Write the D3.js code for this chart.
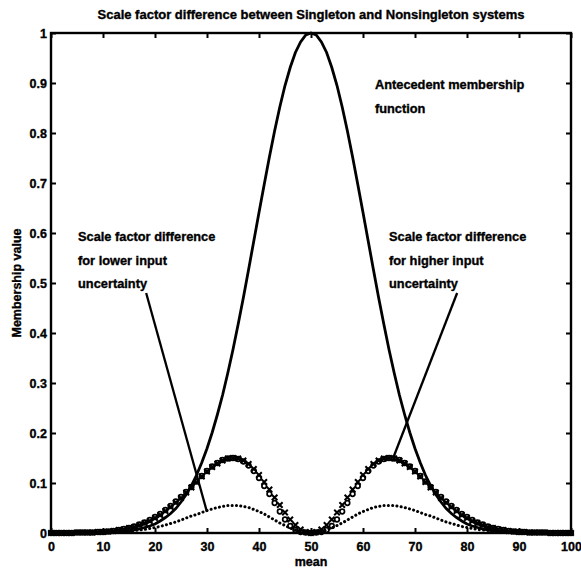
<!DOCTYPE html>
<html>
<head>
<meta charset="utf-8">
<script src="https://cdn.jsdelivr.net/npm/d3@7/dist/d3.min.js"></script>
<style>
  html, body { margin: 0; padding: 0; background: #fff; }
  svg text { font-family: "Liberation Sans", Arial, sans-serif; font-weight: bold; fill: #000; stroke: #000; stroke-width: 0.35px; }
</style>
</head>
<body>
<svg id="chart" width="581" height="574"></svg>
<script>
// ---- data ----
const title = "Scale factor difference between Singleton and Nonsingleton systems";
const xLabel = "mean";
const yLabel = "Membership value";
const xTicks = [0, 10, 20, 30, 40, 50, 60, 70, 80, 90, 100];
const yTicks = [0, 0.1, 0.2, 0.3, 0.4, 0.5, 0.6, 0.7, 0.8, 0.9, 1];

const means = [0,1,2,3,4,5,6,7,8,9,10,11,12,13,14,15,16,17,18,19,20,21,22,23,24,25,26,27,28,29,30,31,32,33,34,35,36,37,38,39,40,41,42,43,44,45,46,47,48,49,50,51,52,53,54,55,56,57,58,59,60,61,62,63,64,65,66,67,68,69,70,71,72,73,74,75,76,77,78,79,80,81,82,83,84,85,86,87,88,89,90,91,92,93,94,95,96,97,98,99,100];

// antecedent membership function (solid line)
const antecedent = [
  0,0,0,0,0,0,0,0,0,0.001,
  0.001,0.001,0.002,0.002,0.003,0.004,0.006,0.008,0.011,0.014,
  0.018,0.024,0.031,0.039,0.049,0.062,0.077,0.095,0.116,0.141,
  0.169,0.201,0.237,0.276,0.320,0.367,0.418,0.471,0.527,0.584,
  0.641,0.697,0.752,0.804,0.852,0.895,0.931,0.961,0.982,0.996,
  1.000,
  0.996,0.982,0.961,0.931,0.895,0.852,0.804,0.752,0.697,0.641,
  0.584,0.527,0.471,0.418,0.367,0.320,0.276,0.237,0.201,0.169,
  0.141,0.116,0.095,0.077,0.062,0.049,0.039,0.031,0.024,0.018,
  0.014,0.011,0.008,0.006,0.004,0.003,0.002,0.002,0.001,0.001,
  0.001,0,0,0,0,0,0,0,0,0
];

// scale factor difference, higher input uncertainty (x markers)
const higherX = [
  0,0,0,0,0,0.001,0.001,0.001,0.001,0.002,
  0.002,0.003,0.004,0.006,0.007,0.010,0.012,0.016,0.020,0.024,
  0.030,0.036,0.044,0.052,0.061,0.070,0.081,0.091,0.102,0.113,
  0.123,0.132,0.139,0.145,0.149,0.150,0.149,0.145,0.138,0.128,
  0.116,0.102,0.087,0.071,0.056,0.041,0.027,0.016,0.007,0.002,
  0,
  0.002,0.007,0.016,0.027,0.041,0.056,0.071,0.087,0.102,0.116,
  0.128,0.138,0.145,0.149,0.150,0.149,0.145,0.139,0.132,0.123,
  0.113,0.102,0.091,0.081,0.070,0.061,0.052,0.044,0.036,0.030,
  0.024,0.020,0.016,0.012,0.010,0.007,0.006,0.004,0.003,0.002,
  0.002,0.001,0.001,0.001,0.001,0,0,0,0,0
];

// scale factor difference, higher input uncertainty (o markers)
const higherO = [
  0,0,0,0,0,0.001,0.001,0.001,0.001,0.002,
  0.002,0.003,0.004,0.006,0.008,0.010,0.013,0.017,0.021,0.026,
  0.032,0.038,0.046,0.054,0.063,0.072,0.082,0.092,0.103,0.114,
  0.124,0.133,0.140,0.146,0.149,0.150,0.148,0.143,0.135,0.124,
  0.110,0.094,0.078,0.060,0.043,0.027,0.014,0.006,0.002,0.001,
  0,
  0.001,0.002,0.006,0.014,0.027,0.043,0.060,0.078,0.094,0.110,
  0.124,0.135,0.143,0.148,0.150,0.149,0.146,0.140,0.133,0.124,
  0.114,0.103,0.092,0.082,0.072,0.063,0.054,0.046,0.038,0.032,
  0.026,0.021,0.017,0.013,0.010,0.008,0.006,0.004,0.003,0.002,
  0.002,0.001,0.001,0.001,0.001,0,0,0,0,0
];

// scale factor difference, lower input uncertainty (dotted)
const lowerDot = [
  0,0,0,0,0,0,0,0,0,0,
  0.001,0.001,0.002,0.002,0.003,0.004,0.005,0.006,0.007,0.009,
  0.011,0.013,0.016,0.019,0.022,0.026,0.030,0.034,0.037,0.041,
  0.045,0.048,0.051,0.053,0.055,0.055,0.055,0.053,0.051,0.047,
  0.043,0.038,0.032,0.026,0.020,0.015,0.010,0.006,0.003,0.001,
  0,
  0.001,0.003,0.006,0.010,0.015,0.020,0.026,0.032,0.038,0.043,
  0.047,0.051,0.053,0.055,0.055,0.055,0.053,0.051,0.048,0.045,
  0.041,0.037,0.034,0.030,0.026,0.022,0.019,0.016,0.013,0.011,
  0.009,0.007,0.006,0.005,0.004,0.003,0.002,0.002,0.001,0.001,
  0,0,0,0,0,0,0,0,0,0
];

// annotations (text lines, anchor in data units)
const noteAntecedent = ["Antecedent membership", "function"];
const noteLower = ["Scale factor difference", "for lower input", "uncertainty"];
const noteHigher = ["Scale factor difference", "for higher input", "uncertainty"];
const noteAnchors = [[62.3, 0.888], [5.2, 0.584], [65.0, 0.584]];
// pointer lines [x1, y1, x2, y2] in data units
const pointers = [[18.3, 0.48, 30.0, 0.042], [78.1, 0.48, 65.8, 0.15]];

// ---- drawing ----
const svg = d3.select("#chart");
const margin = {left: 51, top: 33, right: 10, bottom: 41};
const W = 581, H = 574;
const x = d3.scaleLinear().domain([0, 100]).range([margin.left, W - margin.right]);
const y = d3.scaleLinear().domain([0, 1]).range([H - margin.bottom, margin.top]);

const fmt = d => d === 0 ? "0" : d === 1 ? "1" : d3.format(".1f")(d);

// axes with inward ticks
const gx = svg.append("g").attr("transform", `translate(0,${y(0)})`)
  .call(d3.axisBottom(x).tickValues(xTicks).tickSizeInner(-5).tickSizeOuter(0).tickPadding(9).tickFormat(d3.format("d")));
const gy = svg.append("g").attr("transform", `translate(${x(0)},0)`)
  .call(d3.axisLeft(y).tickValues(yTicks).tickSizeInner(-5).tickSizeOuter(0).tickPadding(4).tickFormat(fmt));
const gt = svg.append("g").attr("transform", `translate(0,${y(1)})`)
  .call(d3.axisTop(x).tickValues(xTicks).tickSizeInner(-5).tickSizeOuter(0).tickFormat(""));
const gr = svg.append("g").attr("transform", `translate(${x(100)},0)`)
  .call(d3.axisRight(y).tickValues(yTicks).tickSizeInner(-5).tickSizeOuter(0).tickFormat(""));
[gx, gy, gt, gr].forEach(g => {
  g.select(".domain").remove();
  g.selectAll(".tick line").attr("stroke", "#000").attr("stroke-width", 2);
  g.selectAll(".tick text").attr("font-size", 12.5).attr("font-weight", "bold")
   .attr("font-family", '"Liberation Sans", Arial, sans-serif');
});

// box
svg.append("rect")
  .attr("x", x(0)).attr("y", y(1))
  .attr("width", x(100) - x(0)).attr("height", y(0) - y(1))
  .attr("fill", "none").attr("stroke", "#000").attr("stroke-width", 2.4);

const line = d3.line().x((d, i) => x(means[i])).y(d => y(d));

// antecedent MF
svg.append("path").datum(antecedent).attr("d", line)
  .attr("fill", "none").attr("stroke", "#000").attr("stroke-width", 2.8);

// lower uncertainty, dotted
svg.append("path").datum(lowerDot).attr("d", line)
  .attr("fill", "none").attr("stroke", "#000").attr("stroke-width", 3)
  .attr("stroke-linecap", "round").attr("stroke-dasharray", "0.1,4.2");

// higher uncertainty, o markers
svg.append("g").selectAll("circle").data(higherO).join("circle")
  .attr("cx", (d, i) => x(means[i])).attr("cy", d => y(d)).attr("r", 2.3)
  .attr("fill", "none").attr("stroke", "#000").attr("stroke-width", 1.7);

// higher uncertainty, x markers
const s = 2.8;
svg.append("g").selectAll("path").data(higherX).join("path")
  .attr("d", (d, i) => {
    const cx = x(means[i]), cy = y(d);
    return `M${cx - s},${cy - s}L${cx + s},${cy + s}M${cx - s},${cy + s}L${cx + s},${cy - s}`;
  })
  .attr("stroke", "#000").attr("stroke-width", 2);

// pointer lines
svg.append("g").selectAll("line").data(pointers).join("line")
  .attr("x1", d => x(d[0])).attr("y1", d => y(d[1]))
  .attr("x2", d => x(d[2])).attr("y2", d => y(d[3]))
  .attr("stroke", "#000").attr("stroke-width", 2.3);

// annotation text
[noteAntecedent, noteLower, noteHigher].forEach((lines, k) => {
  const [ax, ay] = noteAnchors[k];
  const t = svg.append("text").attr("x", x(ax)).attr("y", y(ay)).attr("font-size", 12.8);
  lines.forEach((ln, j) => {
    t.append("tspan").attr("x", x(ax)).attr("dy", j === 0 ? 0 : 23.5).text(ln);
  });
});

// title and axis labels
svg.append("text").attr("x", (x(0) + x(100)) / 2).attr("y", 19)
  .attr("text-anchor", "middle").attr("font-size", 13).text(title);
svg.append("text").attr("x", (x(0) + x(100)) / 2).attr("y", 566)
  .attr("text-anchor", "middle").attr("font-size", 12.5).text(xLabel);
svg.append("text").attr("transform", `translate(21,${(y(0) + y(1)) / 2}) rotate(-90)`)
  .attr("text-anchor", "middle").attr("font-size", 12.5).text(yLabel);
</script>
</body>
</html>
